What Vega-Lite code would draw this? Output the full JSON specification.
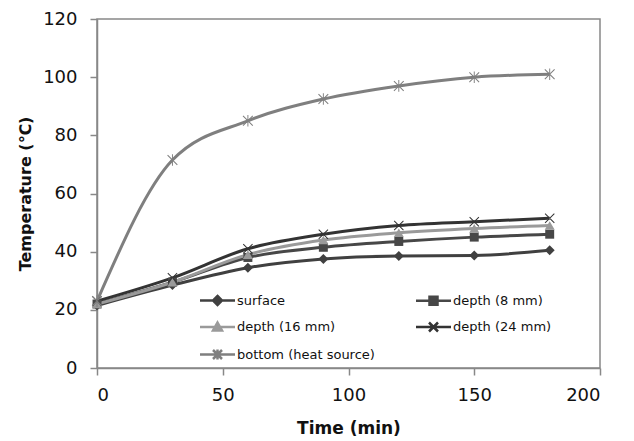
{
  "$schema": "https://vega.github.io/schema/vega-lite/v6.json",
  "width": 503,
  "height": 349,
  "autosize": {"type": "none"},
  "padding": {"left": 97, "top": 19, "right": 34, "bottom": 73},
  "background": "white",
  "config": {
    "view": {"stroke": "#888888", "strokeWidth": 1.5},
    "font": "DejaVu Sans",
    "axis": {
      "grid": false,
      "domainColor": "#888888",
      "domainWidth": 1.5,
      "tickColor": "#888888",
      "tickWidth": 1.5,
      "tickSize": 7,
      "labelFont": "DejaVu Sans",
      "labelFontSize": 18,
      "labelColor": "#111111",
      "titleFont": "DejaVu Sans",
      "titleFontSize": 16,
      "titleFontWeight": "bold",
      "titleColor": "#111111"
    }
  },
  "data": {
    "values": [
      {"t": 0, "temp": 21.5, "series": "surface"},
      {"t": 30, "temp": 28.5, "series": "surface"},
      {"t": 60, "temp": 34.5, "series": "surface"},
      {"t": 90, "temp": 37.5, "series": "surface"},
      {"t": 120, "temp": 38.5, "series": "surface"},
      {"t": 150, "temp": 38.7, "series": "surface"},
      {"t": 180, "temp": 40.5, "series": "surface"},
      {"t": 0, "temp": 22, "series": "depth (8 mm)"},
      {"t": 30, "temp": 29.5, "series": "depth (8 mm)"},
      {"t": 60, "temp": 38, "series": "depth (8 mm)"},
      {"t": 90, "temp": 41.5, "series": "depth (8 mm)"},
      {"t": 120, "temp": 43.5, "series": "depth (8 mm)"},
      {"t": 150, "temp": 45, "series": "depth (8 mm)"},
      {"t": 180, "temp": 46, "series": "depth (8 mm)"},
      {"t": 0, "temp": 22, "series": "depth (16 mm)"},
      {"t": 30, "temp": 29.5, "series": "depth (16 mm)"},
      {"t": 60, "temp": 39, "series": "depth (16 mm)"},
      {"t": 90, "temp": 44, "series": "depth (16 mm)"},
      {"t": 120, "temp": 46.5, "series": "depth (16 mm)"},
      {"t": 150, "temp": 48, "series": "depth (16 mm)"},
      {"t": 180, "temp": 49, "series": "depth (16 mm)"},
      {"t": 0, "temp": 23, "series": "depth (24 mm)"},
      {"t": 30, "temp": 31, "series": "depth (24 mm)"},
      {"t": 60, "temp": 41, "series": "depth (24 mm)"},
      {"t": 90, "temp": 46, "series": "depth (24 mm)"},
      {"t": 120, "temp": 49, "series": "depth (24 mm)"},
      {"t": 150, "temp": 50.3, "series": "depth (24 mm)"},
      {"t": 180, "temp": 51.5, "series": "depth (24 mm)"},
      {"t": 0, "temp": 23, "series": "bottom (heat source)"},
      {"t": 30, "temp": 71.5, "series": "bottom (heat source)"},
      {"t": 60, "temp": 85, "series": "bottom (heat source)"},
      {"t": 90, "temp": 92.5, "series": "bottom (heat source)"},
      {"t": 120, "temp": 97, "series": "bottom (heat source)"},
      {"t": 150, "temp": 100, "series": "bottom (heat source)"},
      {"t": 180, "temp": 101, "series": "bottom (heat source)"}
    ]
  },
  "encoding": {
    "x": {
      "field": "t", "type": "quantitative",
      "scale": {"domain": [0, 200]},
      "axis": {"values": [0, 50, 100, 150, 200], "title": "Time  (min)", "labelPadding": 11, "titlePadding": 16, "titleFontSize": 17}
    },
    "y": {
      "field": "temp", "type": "quantitative",
      "scale": {"domain": [0, 120]},
      "axis": {"values": [0, 20, 40, 60, 80, 100, 120], "title": "Temperature (℃)", "labelPadding": 13, "titlePadding": 9}
    },
    "color": {
      "field": "series", "type": "nominal",
      "scale": {
        "domain": ["surface", "depth (8 mm)", "depth (16 mm)", "depth (24 mm)", "bottom (heat source)"],
        "range": ["#404040", "#474747", "#9a9a9a", "#333333", "#7f7f7f"]
      },
      "legend": {
        "title": null,
        "orient": "none",
        "direction": "horizontal",
        "legendX": 114,
        "legendY": 275,
        "columns": 2,
        "columnPadding": 36,
        "rowPadding": 7.5,
        "padding": 0,
        "symbolSize": 100,
        "labelOffset": 13,
        "labelFont": "DejaVu Sans",
        "labelFontSize": 13,
        "labelColor": "#111111",
        "encode": {
          "symbols": {
            "update": {
              "shape": {"signal": "datum.value === 'surface' ? 'M-3.5,0H3.5M0,-0.9L0.9,0L0,0.9L-0.9,0Z' : datum.value === 'depth (8 mm)' ? 'M-3.5,0H3.5M-0.8,-0.8H0.8V0.8H-0.8Z' : datum.value === 'depth (16 mm)' ? 'M-3.5,0H3.5M0,-0.9L0.9,0.7H-0.9Z' : datum.value === 'depth (24 mm)' ? 'M-3.5,0H3.5M-0.9,-0.9L0.9,0.9M-0.9,0.9L0.9,-0.9' : 'M-3.5,0H3.5M-0.9,-0.9L0.9,0.9M-0.9,0.9L0.9,-0.9M0,-1V1'"},
              "stroke": {"signal": "scale('color', datum.value)"},
              "fill": {"signal": "scale('color', datum.value)"},
              "strokeWidth": {"value": 2.5},
              "opacity": {"value": 1}
            }
          }
        }
      }
    }
  },
  "layer": [
    {
      "mark": {"type": "line", "interpolate": "monotone", "strokeWidth": 3}
    },
    {
      "transform": [{"filter": "datum.series === 'surface'"}],
      "mark": {"type": "point", "filled": true, "opacity": 1, "shape": "diamond", "size": 100}
    },
    {
      "transform": [{"filter": "datum.series === 'depth (8 mm)'"}],
      "mark": {"type": "point", "filled": true, "opacity": 1, "shape": "square", "size": 80}
    },
    {
      "transform": [{"filter": "datum.series === 'depth (16 mm)'"}],
      "mark": {"type": "point", "filled": true, "opacity": 1, "shape": "triangle-up", "size": 100}
    },
    {
      "transform": [{"filter": "datum.series === 'depth (24 mm)'"}],
      "mark": {"type": "point", "filled": true, "opacity": 1, "shape": "M-1,-0.86L-0.86,-1L1,0.86L0.86,1Z M-1,0.86L-0.86,1L1,-0.86L0.86,-1Z", "size": 100}
    },
    {
      "transform": [{"filter": "datum.series === 'bottom (heat source)'"}],
      "mark": {"type": "point", "filled": true, "opacity": 1, "shape": "M-1,-0.86L-0.86,-1L1,0.86L0.86,1Z M-1,0.86L-0.86,1L1,-0.86L0.86,-1Z M-0.09,-1.1H0.09V1.1H-0.09Z", "size": 110}
    }
  ]
}
